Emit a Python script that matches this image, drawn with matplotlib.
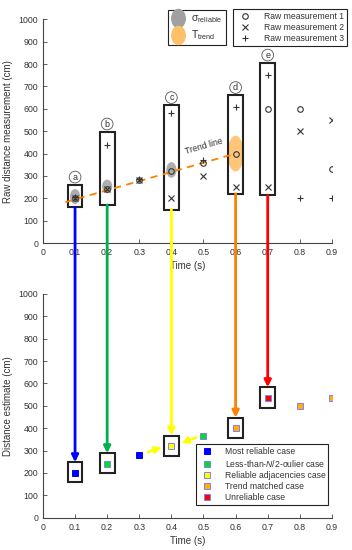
import matplotlib
matplotlib.use("Agg")
from matplotlib import pyplot as plt
from matplotlib.patches import Ellipse, Rectangle, ConnectionPatch
from matplotlib.lines import Line2D
from matplotlib.path import Path
from matplotlib.transforms import Affine2D

plt.rcParams["font.family"] = ["Liberation Sans", "DejaVu Sans"]
plt.rcParams["mathtext.fontset"] = "custom"
plt.rcParams["mathtext.rm"] = "Liberation Sans"
plt.rcParams["mathtext.it"] = "Liberation Sans:italic"

# raw measurements (top panel)
t = [0.1, 0.2, 0.3, 0.4, 0.5, 0.6, 0.7, 0.8, 0.9]
raw1 = [200, 240, 280, 320, 360, 400, 600, 600, 330]
raw2 = [200, 240, 280, 200, 300, 250, 250, 500, 550]
raw3 = [205, 440, 285, 580, 370, 610, 750, 200, 200]

# highlighted windows in top panel
box_t = [0.1, 0.2, 0.4, 0.6, 0.7]
box_lo = [160, 170, 150, 220, 213]
box_hi = [260, 497, 615, 660, 805]
box_tag = ["a", "b", "c", "d", "e"]
box_col = ["#0000ff", "#00b050", "#ffff00", "#ff8000", "#ff0000"]

# sigma_reliable ellipses and trend ellipse
sig_t = [0.1, 0.2, 0.4]
sig_y = [208, 253, 327]
sig_h = [67, 61, 70]
trend_t, trend_y, trend_h = 0.6, 400, 160
trend_line_x = [0.07, 0.6]
trend_line_y = [183, 400]

# estimates (bottom panel)
est = [200, 240, 280, 320, 365, 400, 535, 500, 535]
est_case = [0, 1, 0, 2, 1, 3, 4, 3, 3]
est_box_lo = [160, 198, 276, 356, 492]
est_box_hi = [248, 288, 367, 447, 583]
case_names = ["Most reliable case", r"Less-than-$\mathit{N}$/2-oulier case",
              "Reliable adjacencies case", "Trend matched case", "Unreliable case"]
case_col = ["#0000ff", "#00e020", "#ffff00", "#ffb000", "#ff0000"]
case_edge = ["#0000ff", "#8080ff", "#8080ff", "#8080ff", "#8080ff"]

txt = "#333333"
fig = plt.figure(figsize=(3.52, 5.5), dpi=100)
ax1 = fig.add_axes([0.122, 0.558, 0.821, 0.407])
ax2 = fig.add_axes([0.122, 0.0587, 0.821, 0.407])

for ax in (ax1, ax2):
    ax.set_xlim(0, 0.9)
    ax.set_ylim(0, 1000)
    ax.set_xticks([i / 10 for i in range(10)])
    ax.set_xticklabels(["0"] + ["0.%d" % i for i in range(1, 10)])
    ax.set_yticks(range(0, 1001, 100))
    ax.spines["top"].set_visible(False)
    ax.spines["right"].set_visible(False)
    for s in ("left", "bottom"):
        ax.spines[s].set_color("#444444")
        ax.spines[s].set_linewidth(0.8)
    ax.tick_params(direction="in", length=3, width=0.6, labelsize=6.3,
                   colors="#444444", labelcolor=txt)
    ax.set_xlabel("Time (s)", fontsize=7, color=txt, labelpad=3)

ax1.set_ylabel("Raw distance measurement (cm)", fontsize=7, color=txt)
ax2.set_ylabel("Distance estimate (cm)", fontsize=7, color=txt)

# --- top panel ---
for x, y, h in zip(sig_t, sig_y, sig_h):
    ax1.add_patch(Ellipse((x, y), 0.032, h, color="#a0a0a0", alpha=0.85, lw=0, zorder=2))
ax1.add_patch(Ellipse((trend_t, trend_y), 0.05, trend_h, color="#ffc06a", alpha=0.9, lw=0, zorder=2))

ax1.plot(trend_line_x, trend_line_y, "--", color="#ff8000", lw=1.3, dashes=(4, 3), zorder=4)
ax1.text(0.5, 388, "Trend line", fontsize=6.3, color=txt, rotation=16,
         ha="center", va="bottom")

for x, lo, hi, tag in zip(box_t, box_lo, box_hi, box_tag):
    ax1.add_patch(Rectangle((x - 0.023, lo), 0.046, hi - lo, fill=False,
                            ec="#222222", lw=1.5, zorder=3))
    ax1.text(x, hi + 35, tag, fontsize=6.5, color=txt, ha="center", va="center",
             bbox=dict(boxstyle="circle,pad=0.15", fc="white", ec="#555555", lw=0.6))

m1, = ax1.plot(t, raw1, "o", ms=4, mfc="none", mec="#333333", mew=0.8, ls="none", zorder=5)
m2, = ax1.plot(t, raw2, "x", ms=5, mec="#333333", mew=0.8, ls="none", zorder=5)
m3, = ax1.plot(t, raw3, "+", ms=5, mec="#333333", mew=0.8, ls="none", zorder=5)

leg_r = fig.legend([m1, m2, m3], ["Raw measurement 1", "Raw measurement 2", "Raw measurement 3"],
                   loc="upper left", bbox_to_anchor=(0.651, 0.991), fontsize=6.2,
                   fancybox=False, edgecolor="#222222", framealpha=1,
                   handlelength=2.0, borderpad=0.35, labelspacing=0.2, handletextpad=1.2)
leg_r.get_frame().set_linewidth(0.8)
for tx in leg_r.get_texts():
    tx.set_color(txt)

ell = Path.unit_circle().transformed(Affine2D().scale(0.75, 1.0))
h1 = Line2D([], [], marker=ell, ms=13, color="#a0a0a0", ls="none")
h2 = Line2D([], [], marker=ell, ms=13, color="#ffc06a", ls="none")
leg_l = fig.legend([h1, h2], [r"$\mathrm{\sigma}_{\mathrm{reliable}}$", r"$\mathrm{T}_{\mathrm{trend}}$"],
                   loc="upper left", bbox_to_anchor=(0.463, 0.991), fontsize=7.5,
                   fancybox=False, edgecolor="#222222", framealpha=1,
                   handlelength=1.2, borderpad=0.3, labelspacing=0.3, handletextpad=0.7)
leg_l.get_frame().set_linewidth(0.8)
for tx in leg_l.get_texts():
    tx.set_color(txt)

# --- bottom panel ---
for x, lo, hi in zip(box_t, est_box_lo, est_box_hi):
    ax2.add_patch(Rectangle((x - 0.023, lo), 0.046, hi - lo, fill=False,
                            ec="#222222", lw=1.5, zorder=3))

handles = []
for c in range(len(case_names)):
    xs = [x for x, k in zip(t, est_case) if k == c]
    ys = [y for y, k in zip(est, est_case) if k == c]
    hd, = ax2.plot(xs, ys, "s", ms=4.5, mfc=case_col[c], mec=case_edge[c], mew=0.7,
                   ls="none", zorder=5)
    handles.append(hd)

leg_b = ax2.legend(handles, case_names, loc="lower right", bbox_to_anchor=(1.003, 0.039),
                   fontsize=6.2, fancybox=False, edgecolor="#222222", framealpha=1,
                   handlelength=2.0, borderpad=0.35, labelspacing=0.22, handletextpad=1.0)
leg_b.get_frame().set_linewidth(0.8)
for tx in leg_b.get_texts():
    tx.set_color(txt)

# yellow side arrows into the 0.4 estimate
ax2.annotate("", xy=(0.378, 318), xytext=(0.32, 290),
             arrowprops=dict(arrowstyle="-|>", color="#ffff00", lw=2, mutation_scale=9))
ax2.annotate("", xy=(0.423, 330), xytext=(0.485, 362),
             arrowprops=dict(arrowstyle="-|>", color="#ffff00", lw=2, mutation_scale=9))

# vertical arrows from raw windows to estimates
for x, lo, hi, col in zip(box_t, box_lo, est_box_hi, box_col):
    con = ConnectionPatch(xyA=(x, lo), coordsA=ax1.transData,
                          xyB=(x, hi), coordsB=ax2.transData,
                          arrowstyle="-|>", color=col, lw=2, mutation_scale=10,
                          shrinkA=0, shrinkB=0, zorder=1)
    fig.add_artist(con)

fig.savefig("out.png", dpi=100)
